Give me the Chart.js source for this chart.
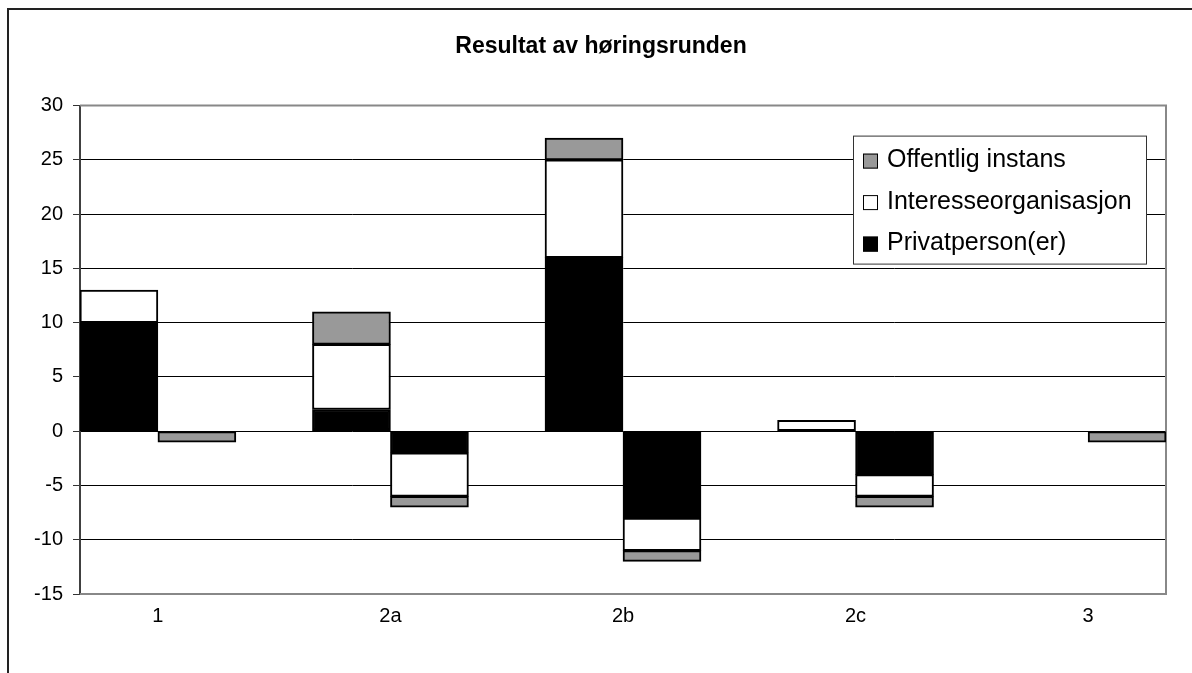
<!DOCTYPE html>
<html>
<head>
<meta charset="utf-8">
<script src="https://cdn.jsdelivr.net/npm/chart.js@4.4.0/dist/chart.umd.min.js"></script>
<style>
  body { margin: 0; background: #fff; }
</style>
</head>
<body>
<canvas id="chart" width="1192" height="673"></canvas>
<script>
const categories = ['1', '2a', '2b', '2c', '3'];

// left bar of each pair
const privatFor = [10, 2, 16, null, null];
const interesseFor = [3, 6, 9, 1, null];
const offentligFor = [null, 3, 2, null, null];
// right bar of each pair
const privatMot = [null, -2, -8, -4, null];
const interesseMot = [null, -4, -3, -2, null];
const offentligMot = [-1, -1, -1, -1, -1];

const seriesNames = ['Privatperson(er)', 'Interesseorganisasjon', 'Offentlig instans'];
const yMin = -15, yMax = 30, yStep = 5;

const BLACK = '#000000', WHITE = '#ffffff', GRAY = '#999999';

Chart.defaults.font.family = "'Liberation Sans', Arial, sans-serif";
Chart.defaults.color = '#000';

function series(label, values, color, stack) {
    return {
        label: label,
        data: values.map((v, i) => ({ x: i, y: v })),
        backgroundColor: color,
        borderColor: '#000',
        borderWidth: 2,
        borderSkipped: false,
        barThickness: 78,
        stack: stack,
    };
}

// white page + the chart frame (left and top edge visible)
const framePlugin = {
    id: 'frame',
    beforeDraw(chart) {
        const ctx = chart.ctx;
        ctx.save();
        ctx.fillStyle = '#fff';
        ctx.fillRect(0, 0, chart.width, chart.height);
        ctx.strokeStyle = '#222';
        ctx.lineWidth = 2;
        ctx.beginPath();
        ctx.moveTo(8, chart.height);
        ctx.lineTo(8, 9);
        ctx.lineTo(chart.width, 9);
        ctx.stroke();
        ctx.restore();
    }
};

// gray border of the plot area (top, right, bottom)
const plotBorder = {
    id: 'plotBorder',
    beforeDatasetsDraw(chart) {
        const a = chart.chartArea, ctx = chart.ctx;
        ctx.save();
        ctx.strokeStyle = '#888';
        ctx.lineWidth = 2;
        ctx.beginPath();
        ctx.moveTo(a.left, a.top);
        ctx.lineTo(a.right, a.top);
        ctx.lineTo(a.right, a.bottom);
        ctx.lineTo(a.left, a.bottom);
        ctx.stroke();
        ctx.restore();
    }
};

// legend box inside the plot, top right
const boxLegend = {
    id: 'boxLegend',
    afterDatasetsDraw(chart) {
        const a = chart.chartArea, ctx = chart.ctx;
        const lx = a.right - 313, ly = a.top + 30, w = 293, h = 128;
        ctx.save();
        ctx.fillStyle = '#fff';
        ctx.fillRect(lx, ly, w, h);
        ctx.strokeStyle = '#333';
        ctx.lineWidth = 1;
        ctx.strokeRect(lx + 0.5, ly + 0.5, w, h);
        const items = chart.data.datasets.slice(0, 3).reverse();
        ctx.font = "25px 'Liberation Sans', Arial, sans-serif";
        ctx.textBaseline = 'middle';
        items.forEach((ds, i) => {
            const cy = ly + 25 + i * 41.5;
            ctx.fillStyle = ds.backgroundColor;
            ctx.fillRect(lx + 10, cy - 7, 15, 15);
            ctx.strokeStyle = '#000';
            ctx.strokeRect(lx + 10.5, cy - 6.5, 14, 14);
            ctx.fillStyle = '#000';
            ctx.fillText(ds.label, lx + 34, cy);
        });
        ctx.restore();
    }
};

new Chart(document.getElementById('chart'), {
    type: 'bar',
    data: {
        datasets: [
            series(seriesNames[0], privatFor, BLACK, 'for'),
            series(seriesNames[1], interesseFor, WHITE, 'for'),
            series(seriesNames[2], offentligFor, GRAY, 'for'),
            series(seriesNames[0], privatMot, BLACK, 'mot'),
            series(seriesNames[1], interesseMot, WHITE, 'mot'),
            series(seriesNames[2], offentligMot, GRAY, 'mot'),
        ],
    },
    options: {
        responsive: false,
        animation: false,
        layout: { padding: { left: 10, right: 0, top: 0, bottom: 35 } },
        plugins: {
            legend: { display: false },
            tooltip: { enabled: false },
            title: {
                display: true,
                text: 'Resultat av høringsrunden',
                color: '#000',
                font: { size: 23, weight: 'bold' },
                padding: { top: 33, bottom: 45 },
            },
        },
        scales: {
            x: {
                type: 'linear',
                offset: false,
                stacked: true,
                min: -0.335,
                max: categories.length - 1 + 0.335,
                grid: { display: false, drawTicks: false },
                border: { display: false },
                afterBuildTicks: s => { s.ticks = categories.map((c, i) => ({ value: i })); },
                ticks: {
                    callback: v => categories[v],
                    padding: 10,
                    font: { size: 20 },
                    color: '#000',
                    autoSkip: false,
                    maxRotation: 0,
                },
            },
            y: {
                stacked: true,
                min: yMin,
                max: yMax,
                ticks: { stepSize: yStep, padding: 10, font: { size: 20 }, color: '#000' },
                grid: { color: '#000', lineWidth: 1, tickLength: 7, tickColor: '#333' },
                border: { display: true, color: '#404040', width: 2 },
                afterFit: s => { s.width = 70; },
            },
            // empty strip right of the plot area
            yRight: {
                type: 'linear',
                position: 'right',
                display: true,
                grid: { display: false },
                border: { display: false },
                ticks: { display: false },
                afterFit: s => { s.width = 26; },
            },
        },
    },
    plugins: [framePlugin, plotBorder, boxLegend],
});
</script>
</body>
</html>
